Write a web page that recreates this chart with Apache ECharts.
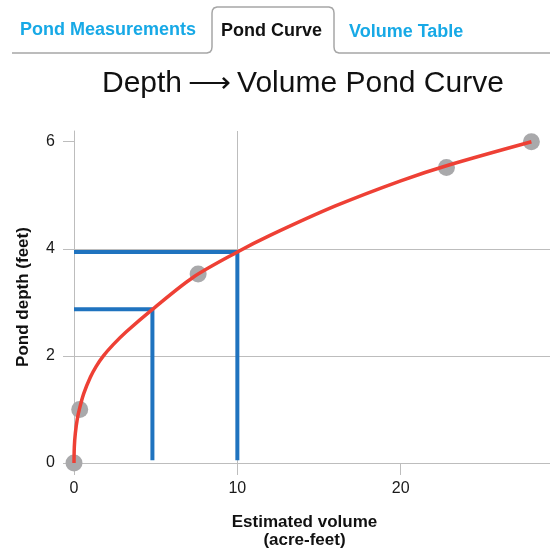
<!DOCTYPE html>
<html>
<head>
<meta charset="utf-8">
<script src="https://cdn.jsdelivr.net/npm/echarts@6/dist/echarts.min.js"></script>
<style>
  html, body { margin: 0; padding: 0; background: #fff; }
  #chart { width: 550px; height: 548px; }
</style>
</head>
<body>
<div id="chart"></div>
<script>
// measured points (volume acre-feet, depth feet)
const pointVolume = [0, 0.35, 7.6, 22.8, 28];
const pointDepth = [0, 1, 3.53, 5.52, 6];

// fitted curve
const curveVolume = [0, 0.02, 0.08, 0.2, 0.35, 0.6, 1.0, 1.35, 1.8, 2.4, 3.2, 4.8, 7.3, 10, 12, 16, 20, 23, 28];
const curveDepth = [0, 0.3, 0.55, 0.82, 1.03, 1.3, 1.6, 1.8, 2.0, 2.21, 2.45, 2.87, 3.47, 3.94, 4.25, 4.8, 5.27, 5.57, 6.0];

// blue lookup guides
const guideA = [[0, 3.94], [10, 3.94], [10, 0.05]];
const guideB = [[0, 2.87], [4.8, 2.87], [4.8, 0.05]];

const yTicks = [0, 2, 4, 6];
const xTicks = [0, 10, 20];

const font = '"Liberation Sans", Helvetica, Arial, sans-serif';
const gridGray = '#bdbdbd';

const chart = echarts.init(document.getElementById('chart'));

const zip = (a, b) => a.map((v, i) => [v, b[i]]);

// tab outline (active tab "Pond Curve")
const tabOutline = [
    [12, 53], [207, 53], [210, 52], [211.5, 50], [212, 47],
    [212, 13], [212.5, 10], [214, 8], [217, 7],
    [329, 7], [332, 8], [333.5, 10], [334, 13],
    [334, 47], [334.5, 50], [336, 52], [339, 53], [550, 53]
];

const option = {
    animation: false,
    textStyle: { fontFamily: font },
    title: {
        text: 'Depth\u2009\u27F6\u2009Volume Pond Curve',
        left: 97,
        top: 64,
        textStyle: { fontSize: 30, fontWeight: 'normal', color: '#111', fontFamily: font }
    },
    graphic: [
        {
            type: 'polyline',
            shape: { points: tabOutline },
            style: { fill: null, stroke: '#a6a6a6', lineWidth: 1.5 }
        },
        {
            type: 'text', left: 20, top: 21,
            style: { text: 'Pond Measurements', fill: '#17a9e6', font: 'bold 18px ' + font }
        },
        {
            type: 'text', left: 221, top: 22,
            style: { text: 'Pond Curve', fill: '#111', font: 'bold 18px ' + font }
        },
        {
            type: 'text', left: 349, top: 23,
            style: { text: 'Volume Table', fill: '#17a9e6', font: 'bold 18px ' + font }
        }
    ],
    grid: { left: 74, right: -1, top: 131, bottom: 85, outerBoundsMode: 'none', containLabel: false },
    xAxis: {
        type: 'value',
        min: 0,
        max: 29.2,
        interval: 10,
        name: 'Estimated volume\n(acre-feet)',
        nameLocation: 'middle',
        nameGap: 50,
        nameTextStyle: { fontSize: 17, fontWeight: 'bold', color: '#111', lineHeight: 18, padding: [0, 16, 0, 0] },
        axisLine: { show: true, lineStyle: { color: gridGray, width: 1 } },
        axisTick: { show: true, length: 12, lineStyle: { color: gridGray }, customValues: xTicks },
        axisLabel: { fontSize: 16, color: '#1a1a1a', margin: 18, customValues: xTicks },
        splitLine: { show: true, showMaxLine: false, lineStyle: { color: gridGray, width: 1 } }
    },
    yAxis: {
        type: 'value',
        min: 0,
        max: 6.2,
        interval: 2,
        name: 'Pond depth (feet)',
        nameLocation: 'middle',
        nameGap: 42,
        nameTextStyle: { fontSize: 17, fontWeight: 'bold', color: '#111' },
        axisLine: { show: true, lineStyle: { color: gridGray, width: 1 } },
        axisTick: { show: true, length: 11, lineStyle: { color: gridGray }, customValues: yTicks },
        axisLabel: { fontSize: 16, color: '#1a1a1a', margin: 19, customValues: yTicks },
        splitLine: { show: true, showMaxLine: false, lineStyle: { color: gridGray, width: 1 } }
    },
    series: [
        {
            type: 'scatter',
            data: zip(pointVolume, pointDepth),
            symbolSize: 17,
            itemStyle: { color: '#a9a9ab', opacity: 1 },
            z: 2
        },
        {
            type: 'line',
            data: guideA,
            showSymbol: false,
            lineStyle: { color: '#1f73bf', width: 4 },
            z: 3
        },
        {
            type: 'line',
            data: guideB,
            showSymbol: false,
            lineStyle: { color: '#1f73bf', width: 4 },
            z: 3
        },
        {
            type: 'line',
            data: zip(curveVolume, curveDepth),
            showSymbol: false,
            smooth: 0.3,
            lineStyle: { color: '#ee4035', width: 3.5 },
            z: 4
        }
    ]
};

chart.setOption(option);
window.addEventListener('resize', () => chart.resize());
</script>
</body>
</html>
